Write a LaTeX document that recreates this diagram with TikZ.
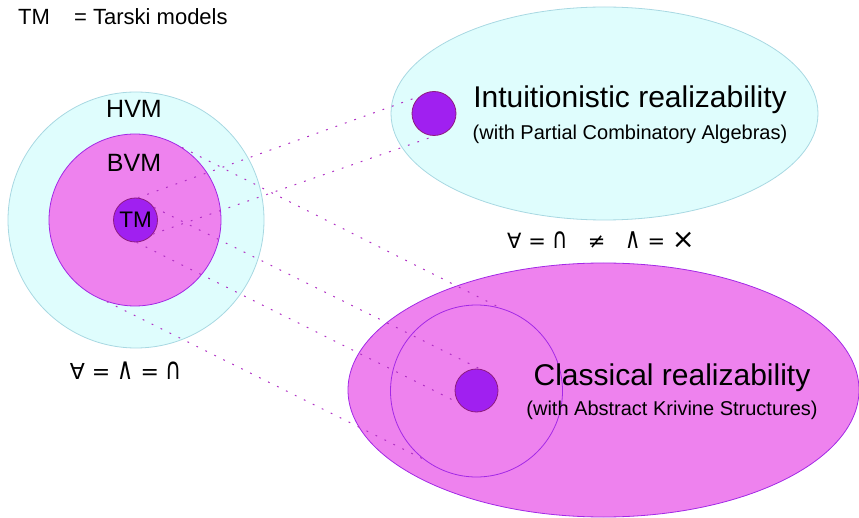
\documentclass[tikz,border=0pt]{standalone}
\usepackage{fontspec}
\setmainfont{Liberation Sans}
\newfontfamily\symfont{DejaVu Sans}
\usetikzlibrary{shapes.geometric}
\definecolor{cyanfill}{HTML}{DFFDFD}
\definecolor{cyanline}{HTML}{A8D8E2}
\definecolor{violetfill}{HTML}{EE82EE}
\definecolor{purpleline}{HTML}{A328E6}
\definecolor{dotfill}{HTML}{A020F0}
\definecolor{dotline}{HTML}{8E1A80}
\definecolor{linkcol}{HTML}{B030C4}
\newcommand{\tallsym}[1]{\scalebox{1}[1.38]{#1}}
\tikzset{
  pxsize/.style={font=\fontsize{#1}{#1}\selectfont},
  hvmcirc/.style={circle, draw=cyanline, fill=cyanfill, line width=0.8pt, inner sep=0pt, minimum size=#1},
  bvmcirc/.style={circle, draw=purpleline, fill=violetfill, line width=0.8pt, inner sep=0pt, minimum size=#1},
  tmdot/.style={circle, draw=dotline, fill=dotfill, line width=0.8pt, inner sep=0pt, minimum size=#1},
  link/.style={draw=linkcol, line width=1pt, dash pattern=on 1.8pt off 8.2pt},
  lbl/.style={anchor=base, inner sep=0pt, text=black},
}
\begin{document}
\begin{tikzpicture}[x=1pt, y=-1pt]
\useasboundingbox (0,0) rectangle (859,518);
% left group
\node[hvmcirc=256pt] (hvm) at (136,220) {};
\node[bvmcirc=172pt] (bvm) at (135,220) {};
\node[tmdot=44pt, pxsize=22.5] (tm) at (135.5,220) {TM};
\node[lbl, pxsize=25] (hvml) at (134,118) {HVM};
\node[lbl, pxsize=25] (bvml) at (134,172) {BVM};
% intuitionistic
\node[ellipse, draw=cyanline, fill=cyanfill, line width=0.8pt, inner sep=0pt, minimum width=427pt, minimum height=213pt] (intu) at (604.5,113.5) {};
\node[tmdot=44pt] (idot) at (434,113.5) {};
\node[lbl, pxsize=30] (intut) at (630,108) {Intuitionistic realizability};
\node[lbl, pxsize=20] (intus) at (630,140) {(with Partial Combinatory Algebras)};
% classical
\node[ellipse, draw=purpleline, fill=violetfill, line width=0.8pt, inner sep=0pt, minimum width=511pt, minimum height=254pt] (clas) at (603.5,390) {};
\node[circle, draw=purpleline, line width=0.8pt, inner sep=0pt, minimum size=172pt] (cin) at (476.5,391) {};
\node[tmdot=43pt] (cdot) at (476.5,390.5) {};
\node[lbl, pxsize=30] (clast) at (672,385) {Classical realizability};
\node[lbl, pxsize=20] (class) at (672,415) {(with Abstract Krivine Structures)};
% texts
\node[lbl, anchor=base west, pxsize=22] (key) at (18,25) {TM};
\node[lbl, anchor=base west, pxsize=22] (keyt) at (74,25) {= Tarski models};
\node[lbl, pxsize=22] (eqleft) at (126,379) {\symfont ∀ = \tallsym{∧} = \tallsym{∩}};
\node[lbl, pxsize=21] (eqtop) at (601,249) {\symfont ∀ = \tallsym{∩} \ \ ≠ \ \ \tallsym{∧} = \scalebox{1.3}{×}};
% dotted links
\draw[link] (tm.84) -- (idot.130);
\draw[link] (tm.-39) -- (idot.-87);
\draw[link] (bvm.57) -- (cin.74);
\draw[link] (tm.34) -- (cdot.81);
\draw[link] (tm.-87) -- (cdot.-146);
\draw[link] (bvm.-109) -- (cin.-128);
\end{tikzpicture}
\end{document}
